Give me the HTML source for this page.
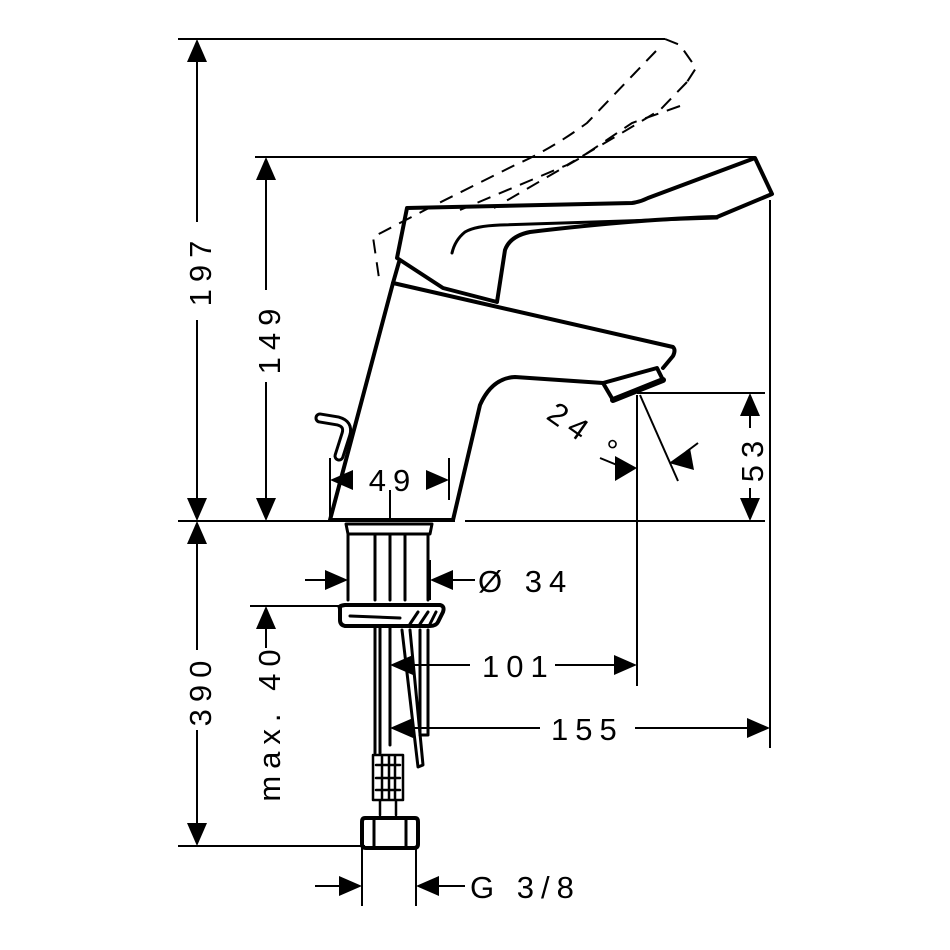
<!DOCTYPE html>
<html><head><meta charset="utf-8"><style>
html,body{margin:0;padding:0;background:#fff}
svg{display:block}
text{font-family:"Liberation Sans",sans-serif;font-size:31px;fill:#000;letter-spacing:7px}
</style></head><body>
<svg width="950" height="950" viewBox="0 0 950 950" xmlns="http://www.w3.org/2000/svg">
<!-- small lever -->
<path d="M320,418 L338,421 Q349,424 346,434 L339,456" stroke="#000" stroke-width="11" fill="none" stroke-linecap="round"/>
<path d="M320,418 L338,421 Q349,424 346,434 L339,456" stroke="#fff" stroke-width="5" fill="none" stroke-linecap="round"/>
<g stroke="#000" stroke-width="4" fill="none" stroke-linejoin="round" stroke-linecap="round">
<path d="M407,208 L632,203 Q640,202 648,198 L755,158 L772,194 L717,217 Q640,219 530,232 Q510,236 505,250 L497,302 L443,288 L397,258 Z"/>
<path d="M452,253 Q455,240 465,232 Q475,226 500,225 L717,218" stroke-width="3"/>
<path d="M399,262 L393,283 L330,520 L453,520 L480,405 Q492,378 515,377 L603,383"/>
<path d="M393,283 L673,347 Q676,350 673,356 L663,368"/>
<path d="M603,383 L657,368 L663,380 L613,400 Z"/>
<path d="M613,400 L663,380" stroke-width="6"/>
<path d="M346,524 L432,524 L430,534 L348,534 Z" stroke-width="3"/>
<path d="M348,534 L348,600 M428,534 L428,600 M375,534 L375,600 M390,534 L390,600 M405,534 L405,600" stroke-width="3"/>
<path d="M340,608 Q338,606 345,605 L440,605 Q445,606 443,612 L438,622 Q436,626 430,626 L345,626 Q340,625 340,620 Z"/>
<path d="M350,616 L400,618 M410,624 L418,612 M420,624 L428,612 M430,624 L436,612" stroke-width="3"/>
<path d="M375,627 L375,753 M380,627 L380,753 M390,627 L390,745" stroke-width="3"/>
<path d="M402,630 L418,767 L423,765 L410,630" stroke-width="3"/>
<path d="M420,630 L420,735 L428,735 L428,630" stroke-width="3"/>
<path d="M373,755 L403,755 L403,800 L373,800 Z M376,765 L400,765 M376,778 L400,778 M376,790 L400,790 M382,755 L382,800 M389,755 L389,800 M395,755 L395,800 M380,800 L380,815 M396,800 L396,815" stroke-width="2.5"/>
<path d="M365,818 L415,818 Q418,818 418,822 L418,844 Q418,848 414,848 L366,848 Q362,848 362,844 L362,822 Q362,818 365,818 Z"/>
<path d="M374,818 L374,848 M406,818 L406,848" stroke-width="3"/>
</g>
<g stroke="#000" stroke-width="2" fill="none">
<line x1="178" y1="39" x2="665" y2="39"/>
<line x1="255" y1="157" x2="755" y2="157"/>
<line x1="178" y1="521" x2="455" y2="521"/>
<line x1="465" y1="521" x2="765" y2="521"/>
<line x1="178" y1="846" x2="365" y2="846"/>
<line x1="250" y1="606" x2="340" y2="606"/>
<line x1="637" y1="393" x2="765" y2="393"/>
<line x1="770" y1="200" x2="770" y2="748"/>
<line x1="637" y1="395" x2="637" y2="686"/>
<line x1="362" y1="848" x2="362" y2="906"/>
<line x1="416" y1="848" x2="416" y2="906"/>
<line x1="330" y1="458" x2="330" y2="521"/>
<line x1="449" y1="458" x2="449" y2="500"/>
<line x1="390" y1="490" x2="390" y2="521"/>
<line x1="348" y1="560" x2="348" y2="600"/>
<line x1="430" y1="560" x2="430" y2="600"/>
<line x1="197" y1="60" x2="197" y2="222"/><line x1="197" y1="320" x2="197" y2="500"/>
<line x1="197" y1="542" x2="197" y2="650"/><line x1="197" y1="730" x2="197" y2="825"/>
<line x1="266" y1="178" x2="266" y2="290"/><line x1="266" y1="382" x2="266" y2="500"/>
<line x1="266" y1="628" x2="266" y2="648"/>
<line x1="750" y1="414" x2="750" y2="428"/><line x1="750" y1="488" x2="750" y2="500"/>
<line x1="305" y1="580" x2="328" y2="580"/><line x1="452" y1="580" x2="475" y2="580"/>
<line x1="410" y1="665" x2="470" y2="665"/><line x1="555" y1="665" x2="616" y2="665"/>
<line x1="410" y1="728" x2="540" y2="728"/><line x1="635" y1="728" x2="750" y2="728"/>
<line x1="315" y1="886" x2="342" y2="886"/><line x1="438" y1="886" x2="465" y2="886"/>
<line x1="640" y1="395" x2="678" y2="481"/>
<line x1="600" y1="458" x2="617" y2="465"/>
<line x1="686" y1="452" x2="698" y2="443"/>
</g>
<g fill="#000">
<polygon points="197,39 187,62 207,62"/><polygon points="197,521 187,498 207,498"/>
<polygon points="197,521 187,544 207,544"/><polygon points="197,846 187,823 207,823"/>
<polygon points="266,157 256,180 276,180"/><polygon points="266,521 256,498 276,498"/>
<polygon points="266,606 256,629 276,629"/>
<polygon points="750,393 740,416 760,416"/><polygon points="750,521 740,498 760,498"/>
<polygon points="330,480 353,470 353,490"/><polygon points="449,480 426,470 426,490"/>
<polygon points="348,580 325,570 325,590"/><polygon points="430,580 453,570 453,590"/>
<polygon points="390,665 413,655 413,675"/><polygon points="637,665 614,655 614,675"/>
<polygon points="390,728 413,718 413,738"/><polygon points="770,728 747,718 747,738"/>
<polygon points="362,886 339,876 339,896"/><polygon points="416,886 439,876 439,896"/>
<polygon points="637,468 615,456 615,481"/>
<polygon points="669,463 690,448 694,470"/>
</g>
<g stroke="#000" stroke-width="2" fill="none" stroke-dasharray="14,9">
<path d="M665,39 L680,45 L696,68 L687,82"/>
<path d="M656,51 L587,123 Q550,150 515,165 L425,210 L373,237 L380,285"/>
<path d="M687,82 L660,110 L615,137 L567,165 L460,210"/>
<path d="M680,106 L632,123 L580,158 L494,208"/>
</g>
<text transform="translate(211,270) rotate(-90)" text-anchor="middle">197</text>
<text transform="translate(280,338) rotate(-90)" text-anchor="middle">149</text>
<text transform="translate(211,690) rotate(-90)" text-anchor="middle">390</text>
<text transform="translate(280,722) rotate(-90)" text-anchor="middle">max. 40</text>
<text transform="translate(763,458) rotate(-90)" text-anchor="middle">53</text>
<text x="393" y="491" text-anchor="middle">49</text>
<text x="478" y="592">Ø 34</text>
<text x="482" y="677">101</text>
<text x="551" y="740">155</text>
<text x="470" y="898">G 3/8</text>
<text transform="translate(545,418) rotate(35)">24 °</text>
</svg>
</body></html>
